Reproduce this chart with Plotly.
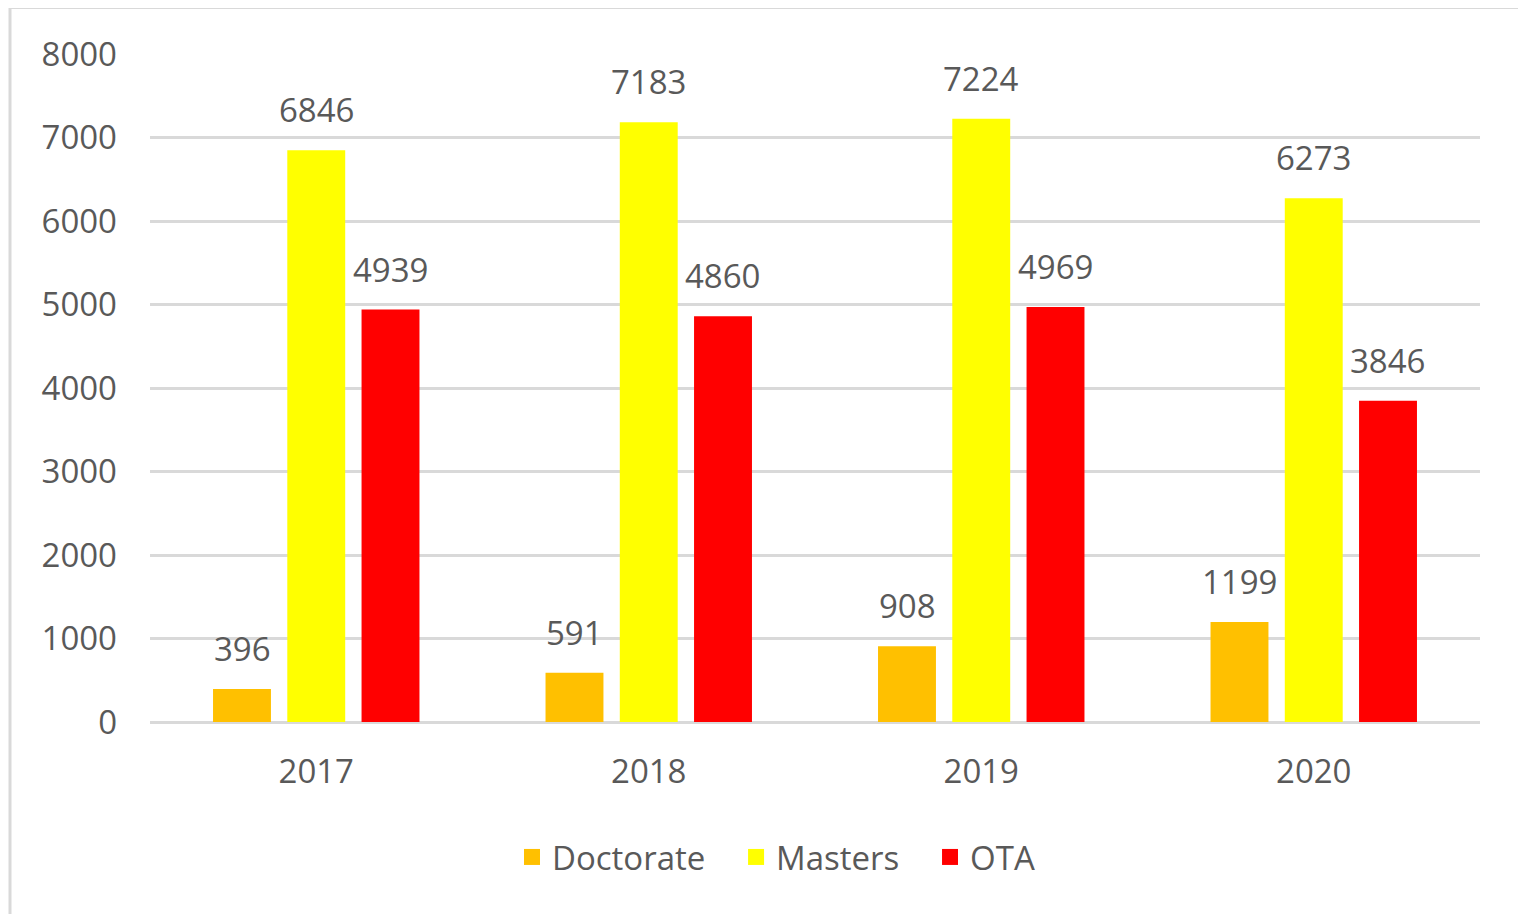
import plotly.graph_objects as go

years = ["2017", "2018", "2019", "2020"]
doctorate = [396, 591, 908, 1199]
masters = [6846, 7183, 7224, 6273]
ota = [4939, 4860, 4969, 3846]
y_ticks = [0, 1000, 2000, 3000, 4000, 5000, 6000, 7000, 8000]

FONT = "Open Sans"
FS = 33
GRAY = "#595959"
GRID = "#d9d9d9"

series = [("Doctorate", doctorate, "#FFC000"),
          ("Masters", masters, "#FFFF00"),
          ("OTA", ota, "#FF0000")]

# figure is drawn at an 8px page offset; layout numbers are in screen pixels minus 8
L, R, T, B = 142, 54, 46, 200
W, H = 1526, 914
pw, ph = W - L - R, H - T - B
OFF = 8

def px(xs):
    return (xs - OFF - L) / pw

def py(ys):
    return (H - B - (ys - OFF)) / ph

fig = go.Figure()
annotations = []
slot = 74  # pixel spacing between grouped bars
for i, (name, vals, col) in enumerate(series):
    fig.add_trace(go.Bar(
        x=years, y=vals, name=name, marker=dict(color=col, line=dict(width=0)),
        showlegend=False, hoverinfo="x+y+name",
    ))
    for j, v in enumerate(vals):
        annotations.append(dict(
            x=j, y=v, xref="x", yref="y", text=str(v), showarrow=False,
            xshift=(i - 1) * slot, yanchor="bottom", yshift=16,
            font=dict(family=FONT, size=FS, color=GRAY),
        ))
for k, (name, vals, col) in enumerate(series):
    label = name + ("\u00a0\u00a0\u00a0" if k < len(series) - 1 else "")
    fig.add_trace(go.Scatter(
        x=[years[0]], y=[None], mode="markers", name=label,
        marker=dict(symbol="square", size=20, color=col), showlegend=True,
        hoverinfo="skip",
    ))

fig.update_layout(
    width=W, height=H,
    margin=dict(l=L, r=R, t=T, b=B),
    paper_bgcolor="white", plot_bgcolor="white",
    barmode="group", bargap=0.33, bargroupgap=0.22,
    font=dict(family=FONT, size=FS, color=GRAY),
    showlegend=True,
    legend=dict(orientation="h", x=px(776), xanchor="center", y=py(857), yanchor="middle",
                font=dict(family=FONT, size=FS, color=GRAY), itemwidth=30,
                traceorder="normal", itemsizing="trace"),
    annotations=annotations,
    shapes=[dict(type="rect", xref="paper", yref="paper",
                 x0=px(10), x1=px(1600), y0=py(1000), y1=py(7.5),
                 line=dict(color=GRID, width=3), layer="below")],
)
fig.update_yaxes(range=[0, 8000], tickvals=y_ticks, showgrid=True, gridcolor=GRID, gridwidth=2.5,
                 zeroline=True, zerolinecolor=GRID, zerolinewidth=2.5, showline=False,
                 ticklabelstandoff=32, tickfont=dict(family=FONT, size=FS, color=GRAY))
fig.update_xaxes(type="category", categoryorder="array", categoryarray=years,
                 range=[-0.5, len(years) - 0.5], autorange=False,
                 showgrid=False, showline=False, ticks="", ticklabelstandoff=27,
                 tickfont=dict(family=FONT, size=FS, color=GRAY))

fig.write_html("out.html")
